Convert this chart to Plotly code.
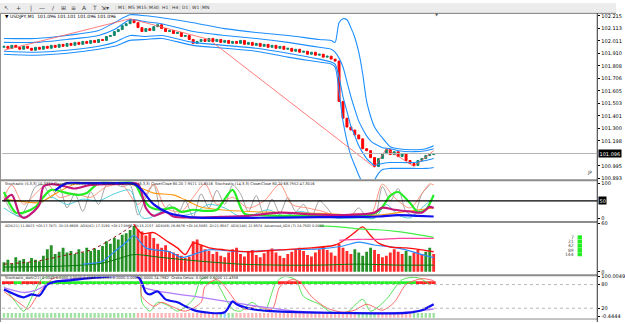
import plotly.graph_objects as go
import numpy as np

W, H = 625, 324
def px(x): return x / W
def py(y): return 1 - y / H

# ---------------- main pane: USDJPY M1 ----------------
close = [101.967, 101.951, 101.975, 101.959, 101.943, 101.967, 101.951, 101.935, 101.959, 101.943,
         101.967, 101.951, 101.975, 101.959, 101.983, 101.967, 101.991,
         101.975, 101.999, 101.983, 102.007, 101.991, 102.015, 101.999, 102.023,
         102.015, 102.047, 102.055, 102.087, 102.103, 102.135, 102.151,
         102.183, 102.159, 102.119, 102.087, 102.111, 102.095, 102.127, 102.143, 102.111, 102.087,
         102.095, 102.071, 102.079, 102.047, 102.055, 102.023, 101.991, 102.007, 102.023, 102.007, 102.031,
         102.007, 102.023, 101.999, 102.015, 101.991, 102.007, 101.991, 102.015, 101.983, 101.999,
         101.975, 101.991, 101.967, 101.983, 101.959, 101.975, 101.951, 101.967, 101.943, 101.951,
         101.927, 101.943, 101.919, 101.927, 101.903, 101.919, 101.895, 101.903, 101.879, 101.887,
         101.863, 101.847,
         101.519, 101.383, 101.311, 101.287, 101.247, 101.215, 101.135, 101.119, 101.063, 100.991,
         101.055, 101.095, 101.127, 101.087, 101.111, 101.071, 101.095, 101.039, 101.015, 100.999,
         101.039, 101.055, 101.079, 101.087, 101.096]
first_open = 101.959
bid = 101.096

band_i = [0, 8, 16, 24, 28, 32, 36, 40, 48, 56, 64, 72, 80, 83, 84, 85, 86, 87, 88, 89, 90, 91,
          92, 93, 94, 95, 96, 98, 100, 104, 107, 109]
bb_outer_up = [102.031, 102.031, 102.055, 102.095, 102.159, 102.223, 102.215, 102.199, 102.159, 102.111,
               102.079, 102.055, 102.023, 102.015, 101.999, 102.159, 102.191, 102.183, 102.119, 102.039,
               101.919, 101.743, 101.519, 101.399, 101.311, 101.263, 101.223, 101.151, 101.135, 101.127,
               101.135, 101.159]
bb_inner_up = [101.999, 101.999, 102.023, 102.055, 102.103, 102.183, 102.167, 102.151, 102.087, 102.055,
               102.031, 101.999, 101.959, 101.943, 101.919, 101.871, 101.799, 101.679, 101.559, 101.455,
               101.359, 101.295, 101.239, 101.199, 101.175, 101.159, 101.143, 101.135, 101.119, 101.111,
               101.119, 101.135]
bb_inner_dn = [101.927, 101.919, 101.935, 101.967, 101.999, 102.055, 102.047, 102.055, 101.999, 101.975,
               101.951, 101.911, 101.863, 101.839, 101.823, 101.719, 101.559, 101.439, 101.319, 101.239,
               101.159, 101.103, 101.055, 101.023, 100.999, 101.007, 101.015, 101.023, 101.023, 101.023,
               101.039, 101.055]
bb_outer_dn = [101.903, 101.895, 101.911, 101.943, 101.967, 102.015, 102.023, 102.031, 101.975, 101.951,
               101.927, 101.879, 101.839, 101.823, 101.799, 101.599, 101.359, 101.199, 101.079, 100.999,
               100.919, 100.855, 100.799, 100.815, 100.879, 100.935, 100.967, 100.975, 100.975, 100.975,
               100.975, 100.983]
zz_i = [0, 32, 52, 94, 97, 104, 109]
zz_p = [101.935, 102.191, 102.023, 100.983, 101.135, 100.991, 101.119]

price_ticks = [102.215, 102.113, 102.011, 101.910, 101.808, 101.706, 101.605, 101.503,
               101.401, 101.300, 101.198, 100.995, 100.893]

# ---------------- stochastic pane ----------------
st_gray_i = list(range(0, 110, 2))
st_gray = [60, 20, 5, 40, 90, 95, 60, 90, 30, 70, 20, 75, 40, 95, 98, 90, 95, 10, 60, 95,
           15, 40, 10, 50, 5, 70, 30, 80, 40, 95, 70, 20, 65, 10, 55, 15, 60, 20, 40, 5,
           50, 30, 3, 2, 8, 30, 5, 2, 90, 50, 85, 20, 10, 70, 95]
st_salmon_i = [0, 2, 5, 8, 11, 14, 18, 22, 26, 30, 34, 38, 41, 45, 48, 51, 54, 58, 62, 66, 70,
               73, 77, 81, 85, 89, 93, 96, 99, 103, 106, 108, 109]
st_salmon = [60, 95, 40, 70, 98, 60, 70, 60, 90, 95, 40, 97, 30, 20, 60, 98, 40, 60, 30, 50, 97,
             40, 30, 20, 5, 15, 10, 97, 60, 30, 70, 98, 95]
st_cyan_i = [0, 3, 6, 9, 12, 16, 20, 24, 28, 32, 35, 37, 40, 44, 48, 52, 56, 60, 63, 67, 71, 75,
             79, 83, 87, 91, 94, 97, 100, 103, 106, 109]
st_cyan = [30, 10, 5, 40, 60, 40, 55, 50, 70, 80, 3, 2, 20, 8, 15, 40, 30, 5, 10, 25, 8, 20,
           12, 3, 1, 2, 1, 40, 10, 2, 30, 60]
st_orange_i = [0, 5, 9, 13, 18, 25, 32, 35, 38, 43, 46, 50, 55, 62, 70, 80, 88, 95, 102, 109]
st_orange = [55, 48, 45, 70, 97, 98, 97, 85, 72, 67, 53, 33, 25, 20, 18, 15, 10, 10, 20, 30]
st_green_i = [0, 3, 5, 8, 10, 12, 16, 19, 21, 24, 28, 33, 35, 37, 40, 43, 45, 48, 51, 54, 56, 58,
              61, 65, 70, 75, 80, 85, 90, 94, 96, 98, 100, 103, 105, 107, 109]
st_green = [75, 17, 17, 33, 61, 81, 72, 67, 72, 100, 100, 100, 61, 33, 25, 31, 19, 25, 22, 25, 55, 81,
            14, 10, 8, 8, 8, 8, 8, 15, 33, 65, 75, 44, 19, 25, 67]
st_magenta_i = [0, 2, 4, 5, 7, 9, 10, 12, 15, 18, 22, 30, 34, 36, 38, 41, 43, 47, 55, 62, 70, 78,
                86, 94, 96, 99, 103, 106, 108, 109]
st_magenta = [50, 67, 10, 2, 15, 40, 90, 97, 92, 85, 95, 98, 97, 30, 8, 19, 6, 3, 5, 8, 17, 12,
              10, 17, 31, 25, 20, 17, 33, 30]
st_blue_i = [13, 16, 20, 25, 30, 33, 35, 38, 42, 46, 49, 60, 70, 80, 90, 95, 100, 105, 109]
st_blue = [80, 100, 100, 100, 100, 98, 80, 40, 15, 6, 3, 2, 3, 4, 5, 6, 10, 8, 6]
st_level = 50

# ---------------- ADX pane ----------------
adx_hist = [12, 15, 10, 18, 14, 16, 12, 17, 15, 13,
            20, 28, 33, 22, 25, 30, 24,
            26, 22, 28, 24, 30, 26, 29, 27,
            32, 38, 35, 42, 40, 46, 48,
            52, 57, 53, 50, 45, 48, 42, 35, 30, 33, 26, 24, 22, 20, 17, 19, 38, 40, 33, 28, 26,
            22, 25, 20, 18, 24, 28, 30, 22, 19, 25, 27, 21, 18, 23, 26, 29, 24, 20, 17, 22,
            25, 28, 30, 26, 21, 19, 24, 28, 32, 27, 24, 20,
            35, 30, 26, 22, 28, 24, 20, 25, 30, 27, 22, 18, 20, 24, 28, 25, 22, 26, 20, 24,
            27, 22, 25, 30, 22]
adx_bull_ranges = [(0, 33), (89, 93), (102, 103), (107, 108)]
adx_dot_i = [0, 8, 16, 22, 26, 30, 33]
adx_dot = [9.5, 13, 21, 27, 37, 49, 59]
adx_red_i = [33, 35, 38, 41, 44, 46, 48, 50, 52, 56, 62, 70, 78, 84, 87, 89, 91, 93, 95, 98, 102, 106, 109]
adx_red = [59, 47.5, 48.7, 39.2, 29.7, 21.4, 35.6, 33.3, 29.7, 27.3, 24.9, 27.3, 29.7, 33.3, 41.6,
           49, 55.8, 45.1, 35.6, 30.9, 29.7, 27.3, 24.9]
adx_blue_i = [20, 25, 28, 31, 33, 36, 42, 45, 48, 52, 60, 70, 80, 86, 90, 94, 98, 102, 106, 109]
adx_blue = [9.5, 13.1, 24.9, 36.8, 45.1, 29.7, 24.9, 17.8, 21.4, 27.3, 24.9, 27.3, 28.5, 32.1,
            36.8, 33.3, 30.9, 27.3, 21.4, 17.8]
adx_green_i = [0, 15, 25, 30, 33, 40, 50, 60, 70, 80, 90, 100, 109]
adx_green = [5.9, 7.1, 10.7, 17.8, 21.4, 17.8, 13.1, 9.5, 8.3, 8.3, 9.5, 8.3, 8.3]
adx_lime_i = [80, 85, 90, 95, 100, 105, 109]
adx_lime = [57, 55.8, 53.4, 52.3, 49.9, 46.3, 42.8]
adx_pink_i = [85, 90, 95, 100, 105, 109]
adx_pink = [39.2, 40.4, 40.4, 41.6, 41.6, 41.6]
adx_periods = ["7", "21", "42", "89", "144"]

# ---------------- bottom oscillator pane ----------------
osc_blue_i = [0, 4, 5, 7, 9, 11, 13, 16, 24, 34, 36, 37, 39, 41, 44, 46, 49, 56, 58, 59, 63, 68,
              74, 84, 94, 102, 106, 109]
osc_blue = [67.5, 50, 47.5, 55, 52.5, 80, 87.5, 90, 98, 100, 60, 55, 62.5, 42.5, 35, 25, 12.5, 10,
            37.5, 30, 17.5, 12.5, 10, 8, 7, 8, 15, 30]
osc_purple_i = [0, 5, 8, 12, 20, 34, 35, 41, 50, 58, 66, 74, 85, 95, 102, 109]
osc_purple = [72.5, 60, 65, 85, 97, 98, 75, 60, 47.5, 35, 22.5, 12.5, 8, 8, 10, 18]
osc_green_i = [0, 3, 5, 8, 10, 15, 34, 35, 37, 39, 42, 44, 48, 50, 53, 55, 58, 60, 63, 66, 69, 71,
               74, 76, 80, 83, 87, 91, 93, 97, 101, 105, 108]
osc_green = [75, 35, 12.5, 67.5, 97.5, 100, 100, 35, 12.5, 35, 25, 12.5, 42.5, 92.5, 100, 67.5,
             17.5, 12.5, 35, 12.5, 85, 100, 92.5, 50, 30, 10, 10, 42.5, 12.5, 42.5, 92.5, 97.5, 80]
osc_red_i = [0, 5, 6, 9, 12, 14, 34, 35, 38, 40, 43, 46, 50, 51, 54, 56, 59, 61, 64, 68, 70, 73,
             75, 78, 82, 86, 89, 92, 96, 99, 102, 106, 109]
osc_red = [62.5, 25, 17.5, 60, 92.5, 100, 100, 50, 25, 35, 22.5, 12.5, 35, 75, 92.5, 75, 35, 17.5,
           25, 17.5, 75, 92.5, 87.5, 50, 20, 10, 15, 30, 15, 35, 80, 95, 90]
osc_sig_level = 85
osc_sig_red_ranges = [(0, 2), (5, 9), (70, 75), (105, 109)]
osc_strip_green_ranges = [(0, 33), (55, 58), (90, 94), (104, 109)]
osc_strip_blue = [56]
osc_levels = [80, 20]

# ---------------- build ----------------
n = len(close)
idx = list(range(n))
opens = [first_open] + close[:-1]
highs = np.maximum(opens, close)
lows = np.minimum(opens, close)

def in_ranges(i, ranges):
    return any(a <= i <= b for a, b in ranges)

fig = go.Figure()

fig.add_trace(go.Candlestick(
    x=idx, open=opens, high=highs, low=lows, close=close,
    increasing=dict(line=dict(color='#10876c', width=1), fillcolor='#10876c'),
    decreasing=dict(line=dict(color='#ff0000', width=1), fillcolor='#ff0000'),
    whiskerwidth=0, xaxis='x', yaxis='y', showlegend=False, hoverinfo='skip'))

for band in (bb_outer_up, bb_inner_up, bb_inner_dn, bb_outer_dn):
    fig.add_trace(go.Scatter(x=band_i, y=band, mode='lines', yaxis='y',
                             line=dict(color='#1e8fff', width=1.1, shape='spline', smoothing=0.7),
                             showlegend=False, hoverinfo='skip'))
fig.add_trace(go.Scatter(x=zz_i, y=zz_p, mode='lines', yaxis='y',
                         line=dict(color='#ff5a5a', width=0.8), showlegend=False, hoverinfo='skip'))

def sline(xs, ys, axis, color, width, dash=None, smooth=0.8):
    fig.add_trace(go.Scatter(x=xs, y=ys, mode='lines', yaxis=axis,
                             line=dict(color=color, width=width, shape='spline', smoothing=smooth,
                                       dash=dash),
                             showlegend=False, hoverinfo='skip'))

# stochastic
sline(st_gray_i, st_gray, 'y2', '#9a9a9a', 0.9)
sline(st_salmon_i, st_salmon, 'y2', '#ff8a70', 0.9)
sline(st_cyan_i, st_cyan, 'y2', '#3cc8d8', 0.9)
sline(st_orange_i, st_orange, 'y2', '#ff9a10', 1.1)
sline(st_green_i, st_green, 'y2', '#22ee22', 2.2)
sline(st_magenta_i, st_magenta, 'y2', '#c4187a', 2.2)
sline(st_blue_i, st_blue, 'y2', '#1010ee', 2.2)

# ADX histogram
adx_cols = ['#279127' if in_ranges(i, adx_bull_ranges) else '#ff2a2a' for i in idx]
fig.add_trace(go.Bar(x=idx, y=adx_hist, yaxis='y3', marker=dict(color=adx_cols, line=dict(width=0)),
                     width=0.72, showlegend=False, hoverinfo='skip'))
sline(adx_green_i, adx_green, 'y3', '#0a7a0a', 1)
sline(adx_dot_i, adx_dot, 'y3', '#8b1010', 1, dash='dot')
sline(adx_blue_i, adx_blue, 'y3', '#2a8cff', 1.2)
sline(adx_red_i, adx_red, 'y3', '#ff1010', 1.4)
sline(adx_lime_i, adx_lime, 'y3', '#44ee44', 1.2)
sline(adx_pink_i, adx_pink, 'y3', '#ff40a0', 1.2)

# bottom oscillator
sig_cols = ['#ff2020' if in_ranges(i, osc_sig_red_ranges) else '#22ee22' for i in idx]
fig.add_trace(go.Bar(x=idx, y=[7] * n, base=[osc_sig_level - 3.5] * n, yaxis='y4', width=1.0,
                     marker=dict(color=sig_cols, line=dict(width=0)), showlegend=False, hoverinfo='skip'))
strip_cols = ['#8fd6ff' if i in osc_strip_blue else ('#9fe29f' if in_ranges(i, osc_strip_green_ranges)
              else '#ffb4b4') for i in idx]
fig.add_trace(go.Bar(x=idx, y=[12] * n, base=[-4] * n, yaxis='y4', width=0.6,
                     marker=dict(color=strip_cols, line=dict(width=0)), showlegend=False, hoverinfo='skip'))
sline(osc_green_i, osc_green, 'y4', '#44e044', 0.9)
sline(osc_red_i, osc_red, 'y4', '#ff5a5a', 0.9)
sline(osc_purple_i, osc_purple, 'y4', '#b47cff', 1.3)
sline(osc_blue_i, osc_blue, 'y4', '#1010ee', 2.2)

# ---------------- layout ----------------
tickfont = dict(size=5, color='#000000', family='DejaVu Sans')
def yax(dom, rng, vals, texts):
    return dict(domain=dom, range=rng, side='right', anchor='x', tickvals=vals, ticktext=texts,
                ticks='outside', ticklen=2, tickwidth=1, tickcolor='#000', tickfont=tickfont,
                showgrid=False, zeroline=False, showline=False, fixedrange=True)

layout = dict(
    width=W, height=H, margin=dict(l=0, r=0, t=0, b=0),
    paper_bgcolor='white', plot_bgcolor='white', showlegend=False, barmode='overlay',
    xaxis=dict(domain=[px(2), px(606)], range=[-0.5, 150.5], visible=False,
               rangeslider=dict(visible=False), fixedrange=True),
    yaxis=yax([py(179), py(11)], [100.887, 102.231], price_ticks, [f"{v:.3f}" for v in price_ticks]),
    yaxis2=yax([py(221), py(181)], [-5.56, 105.56], [100, 0], ["100", "0"]),
    yaxis3=yax([py(275), py(224)], [-2.45, 60], [60, 0], ["60", "0"]),
    yaxis4=yax([py(320), py(278)], [-5, 100], [100, 80, 20, 0], ["100.0049", "80", "20", "-0.4444"]),
)
fig.update_layout(**layout)

shapes = []
# toolbar
shapes.append(dict(type='rect', xref='paper', yref='paper', x0=0, x1=1, y0=py(10), y1=1,
                   fillcolor='#ececec', line=dict(width=0), layer='below'))
shapes.append(dict(type='line', xref='paper', yref='paper', x0=0, x1=1, y0=py(10.5), y1=py(10.5),
                   line=dict(color='#7a7a7a', width=1)))
# pane separators
for yy in (180, 222.5, 276.5):
    shapes.append(dict(type='line', xref='paper', yref='paper', x0=0, x1=px(606), y0=py(yy), y1=py(yy),
                       line=dict(color='#8c8c8c', width=2)))
shapes.append(dict(type='line', xref='paper', yref='paper', x0=0, x1=px(606), y0=py(321), y1=py(321),
                   line=dict(color='#8c8c8c', width=1)))
# right axis border and left border
shapes.append(dict(type='line', xref='paper', yref='paper', x0=px(606), x1=px(606), y0=0, y1=py(10.5),
                   line=dict(color='#303030', width=1)))
shapes.append(dict(type='line', xref='paper', yref='paper', x0=px(0.5), x1=px(0.5), y0=0, y1=py(10.5),
                   line=dict(color='#909090', width=1)))
# bid line
shapes.append(dict(type='line', xref='paper', yref='y', x0=px(2), x1=px(606), y0=bid, y1=bid,
                   line=dict(color='#b4b4b4', width=1)))
# stochastic level
shapes.append(dict(type='line', xref='paper', yref='y2', x0=px(2), x1=px(606), y0=st_level, y1=st_level,
                   line=dict(color='#000000', width=1.3)))
# oscillator levels
for lv in osc_levels:
    shapes.append(dict(type='line', xref='paper', yref='y4', x0=px(2), x1=px(606), y0=lv, y1=lv,
                       line=dict(color='#b8b8b8', width=1, dash='dot')))
# ADX period legend squares
for k in range(len(adx_periods)):
    yc = 238 + 4.3 * k
    shapes.append(dict(type='rect', xref='paper', yref='paper', x0=px(586), x1=px(590.5),
                       y0=py(yc + 2), y1=py(yc - 2), fillcolor='#22ee22', line=dict(width=0)))
fig.update_layout(shapes=shapes)

ann = []
def txt(x, y, s, size=5, color='#000000', xanchor='left', **kw):
    ann.append(dict(x=px(x), y=py(y), xref='paper', yref='paper', text=s, showarrow=False,
                    xanchor=xanchor, yanchor='middle', font=dict(size=size, color=color,
                    family='DejaVu Sans'), **kw))

# toolbar icons and timeframe buttons
for x, s in [(7, '↖'), (19, '+'), (31, '|'), (43, '—'), (54, '/'), (64, '⊞'), (75, '≡'),
             (86, 'A'), (96, 'T'), (107, '⇲▾')]:
    txt(x, 5, s, size=6, color='#404040', xanchor='center')
for x, s in [(123, 'M1'), (133, 'M5'), (144, 'M15'), (156, 'M30'), (167, 'H1'), (178, 'H4'),
             (188, 'D1'), (198, 'W1'), (209, 'MN')]:
    txt(x, 5, s, size=4.5, color='#303030', xanchor='center')
    txt(x - 5.5, 5, '|', size=5, color='#b0b0b0', xanchor='center')

txt(3, 13.5, '▼ USDJPY,M1  101.096 101.101 101.096 101.096', size=4.5)
txt(443, 11.5, '▼', size=4, color='#606060', xanchor='center')
txt(603, 172.5, 'JP', size=4.5, color='#404040', xanchor='right')
txt(3, 183.5, 'Stochastic (5,3,3) 10.3337 Close/Close 80.20 7.9571 10.6768  Stochastic (8,3,3) '
              'Close/Close 80.20 7.9571 15.8516  Stochastic (14,3,3) Close/Close 80.20 68.7952 47.3016',
    size=3.6, color='#202020')
txt(3, 226.5, 'ADX(21) 11.0823 +DI:17.7871 -DI:15.6609  ADX(42) 17.3190 +DI:17.0866 -DI:15.2157  '
              'ADX(89) 26.6876 +DI:14.5063 -DI:21.9587  ADX(144) 22.9574  Advanced_ADX (7) 24.7503 0.0000',
    size=3.4, color='#202020')
txt(3, 279.5, 'Stochastic_dark(21) 0.0049 0.0000 0.0000 0.4563 20.1281 0.0000 0.0000 0.0000 '
              '24.7962  Oraka Delux: 0.0000 0.0000 11.4358', size=3.6, color='#202020')
for k, s in enumerate(adx_periods):
    txt(584, 238 + 4.3 * k, s, size=4.5, color='#505050', xanchor='right')

# highlighted right-axis labels
ann.append(dict(x=px(607), y=bid, xref='paper', yref='y', text=f"{bid:.3f}", showarrow=False,
                xanchor='left', yanchor='middle', bgcolor='#000000', borderpad=0.5,
                font=dict(size=5, color='#ffffff', family='DejaVu Sans')))
ann.append(dict(x=px(607), y=st_level, xref='paper', yref='y2', text=f"{st_level}", showarrow=False,
                xanchor='left', yanchor='middle', bgcolor='#000000', borderpad=0.5,
                font=dict(size=5, color='#ffffff', family='DejaVu Sans')))
fig.update_layout(annotations=ann)

fig.write_html("out.html", config=dict(displayModeBar=False, staticPlot=True))
